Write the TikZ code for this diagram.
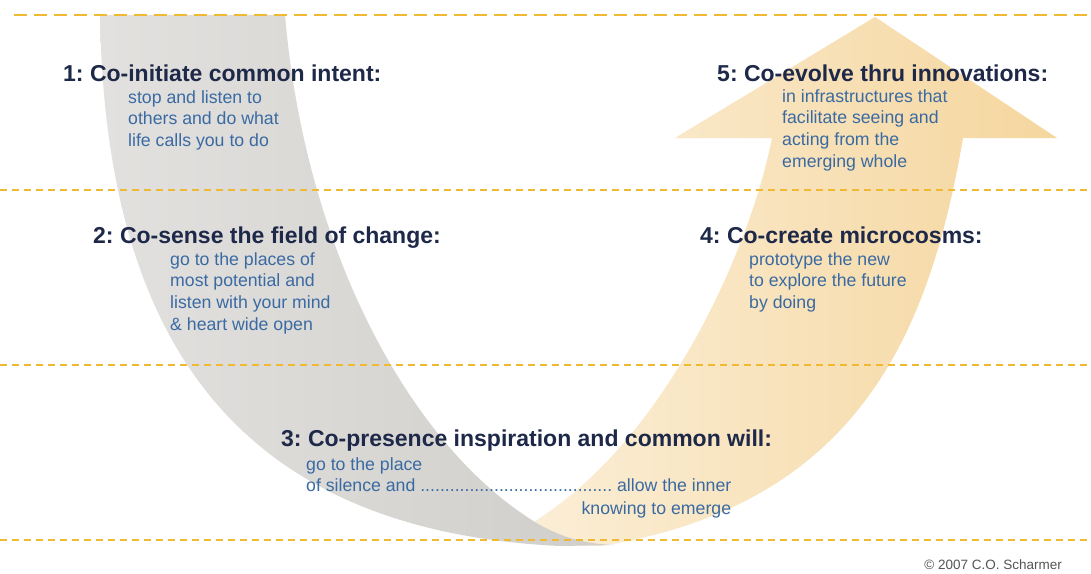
\documentclass[tikz,border=0pt]{standalone}
\usepackage{fontspec}
\setmainfont{Liberation Sans}
\usepackage{tikz}
\frenchspacing
\definecolor{dashc}{RGB}{240, 185, 50}
\definecolor{greyL}{RGB}{226, 225, 223}
\definecolor{greyR}{RGB}{208, 206, 202}
\definecolor{sandL}{RGB}{251, 238, 214}
\definecolor{sandR}{RGB}{245, 214, 158}
\definecolor{navy}{RGB}{30, 40, 72}
\definecolor{steel}{RGB}{58, 106, 162}
\definecolor{note}{RGB}{85, 85, 85}
\usetikzlibrary{positioning}
\tikzset{
	head/.style={anchor=base west, inner sep=0pt, text=navy, font=\fontsize{23}{27}\selectfont\bfseries},
	body/.style={anchor=north west, inner sep=0pt, text=steel, align=left, font=\fontsize{17.7}{21.7}\selectfont},
	rule/.style={draw=dashc, line width=1.5pt, dash pattern=on 7pt off 5pt},
}
\begin{document}
\begin{tikzpicture}
		[x=1pt, y=-1pt]
		\useasboundingbox (0,0) rectangle (1091,573);
		\fill [white] (0,0) rectangle (1091,573);
		\shade [left color=sandL, right color=sandR] (535,521) .. controls (665,440) and (750,250) .. (772,138) -- (675,138) -- (875,17) -- (1057,138) -- (963,138) .. controls (930,330) and (860,505) .. (600,546) -- (548,545) -- cycle;
		\shade [left color=greyL, right color=greyR] (100,15) .. controls (105,320) and (220,530) .. (560,546) -- (615,545) .. controls (590,544) and (565,540) .. (535,522) .. controls (410,445) and (305,250) .. (285,15) -- cycle;
		\draw [draw=dashc, line width=2.5pt, dash pattern=on 13pt off 7pt] (14,15) -- (1091,15);
		\draw [rule] (0,190) -- (1091,190);
		\draw [rule] (0,365) -- (1091,365);
		\draw [rule] (0,540) -- (1091,540);
		\node (h1) [head] at (63,81) {1: Co-initiate common intent:};
		\node (b1) [body] at (128,90) {stop and listen to\\others and do what\\life calls you to do};
		\node (h5) [head] at (717,81) {5: Co-evolve thru innovations:};
		\node (b5) [body] at (782,89) {in infrastructures that\\facilitate seeing and\\acting from the\\emerging whole};
		\node (h2) [head] at (93,243) {2: Co-sense the field of change:};
		\node (b2) [body] at (170,252) {go to the places of\\most potential and\\listen with your mind\\\& heart wide open};
		\node (h4) [head] at (700,243) {4: Co-create microcosms:};
		\node (b4) [body] at (749,252) {prototype the new\\to explore the future\\by doing};
		\node (h3) [head] at (281,446) {3: Co-presence inspiration and common will:};
		\node (b3) [body] at (306,457) {go to the place\\of silence and .......................................\ allow the inner};
		\node (k3) [body, below=9pt of b3.south east, anchor=north east] {knowing to emerge};
		\node (cr) [anchor=base east, inner sep=0pt, text=note, font=\fontsize{13.5}{16}\selectfont] at (1062,569) {© 2007 C.O. Scharmer};
\end{tikzpicture}
\end{document}
